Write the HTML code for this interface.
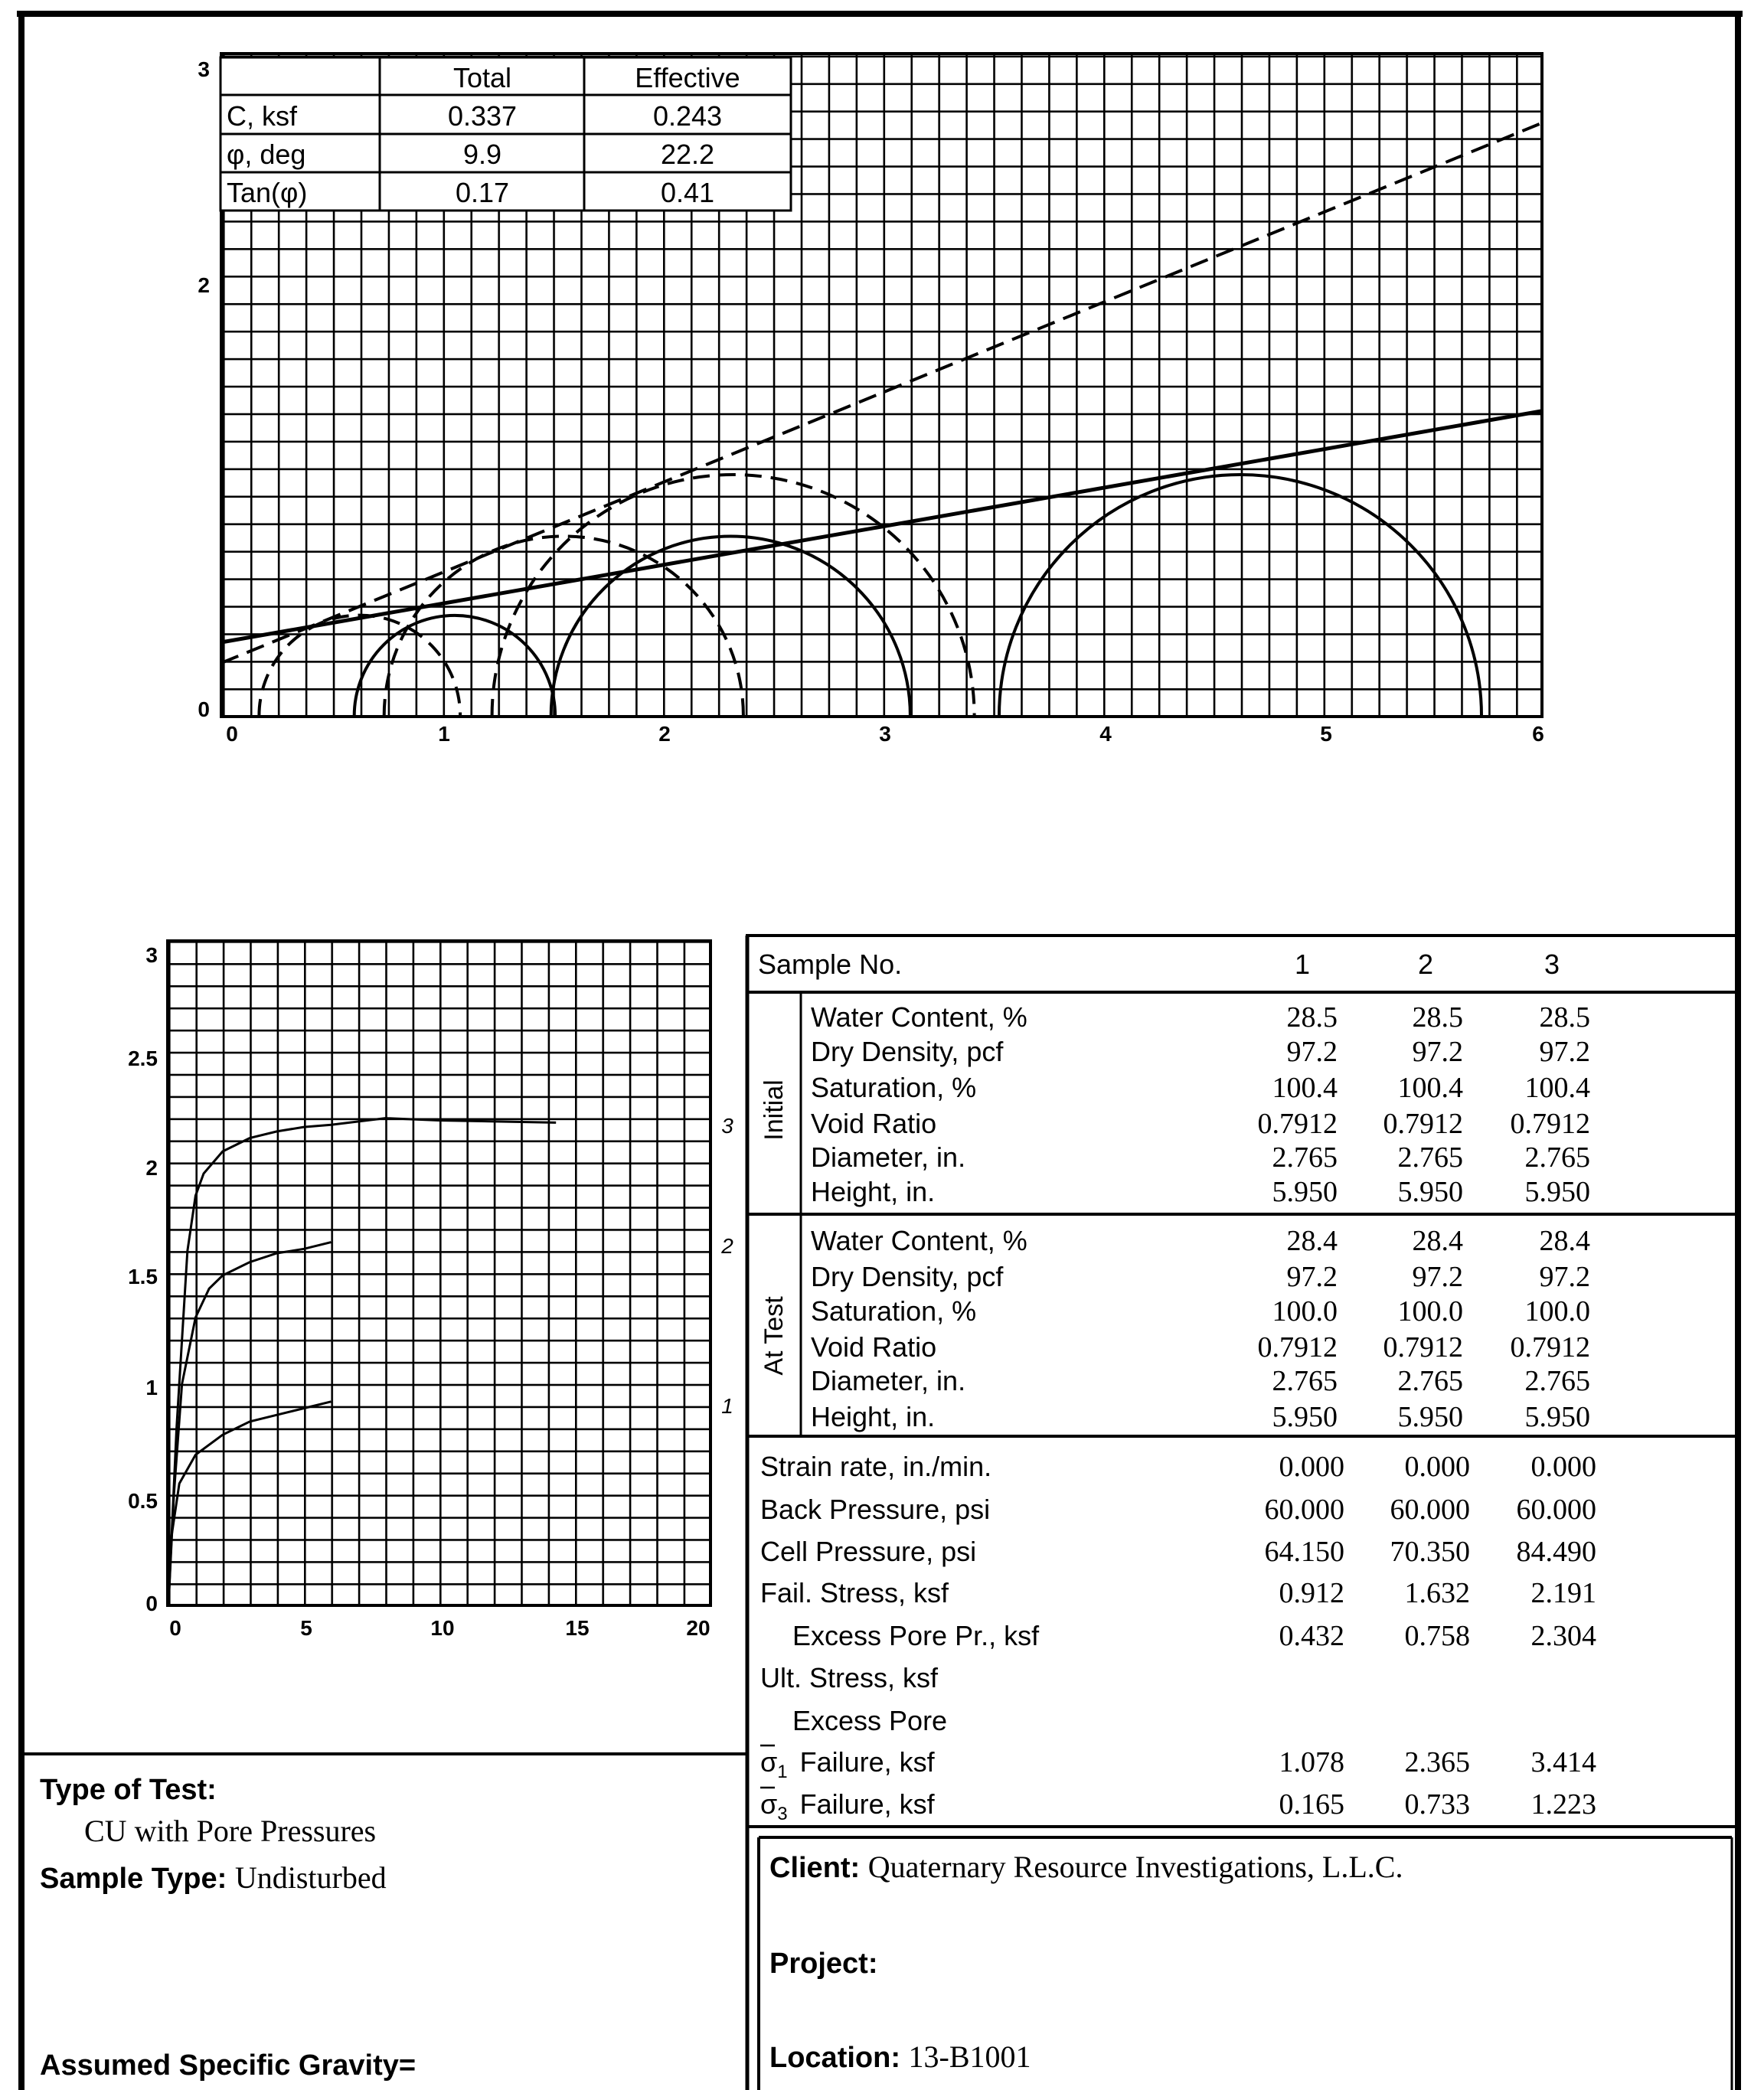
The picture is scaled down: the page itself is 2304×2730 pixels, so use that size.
<!DOCTYPE html>
<html><head><meta charset="utf-8"><style>
html,body{margin:0;padding:0;background:#fff}
svg{display:block}
.s{font-family:"Liberation Sans",Arial,sans-serif}
.r{font-family:"Liberation Serif","Times New Roman",serif}
</style></head><body>
<svg width="2304" height="2730" viewBox="0 0 2304 2730" xmlns="http://www.w3.org/2000/svg">
<defs>
<pattern id="g1" patternUnits="userSpaceOnUse" x="291" y="935" width="35.9375" height="35.9375">
<rect x="0" y="0" width="2.6" height="35.9375" fill="#000"/><rect x="0" y="0" width="35.9375" height="2.6" fill="#000"/>
</pattern>
<pattern id="g2" patternUnits="userSpaceOnUse" x="220" y="2097" width="35.4" height="28.93">
<rect x="0" y="0" width="2.6" height="28.93" fill="#000"/><rect x="0" y="0" width="35.4" height="2.6" fill="#000"/>
</pattern>
</defs>
<rect width="2304" height="2730" fill="#fff"/>
<rect x="22" y="14" width="2254" height="8" fill="#000"/>
<rect x="24" y="14" width="8" height="2716" fill="#000"/>
<rect x="2266" y="14" width="8" height="2716" fill="#000"/>

<rect x="291" y="71" width="1722" height="864" fill="url(#g1)"/>
<rect x="289" y="70" width="1725" height="866" fill="none" stroke="#000" stroke-width="4"/>
<rect x="288" y="75" width="745" height="200" fill="#fff" stroke="#000" stroke-width="3"/>
<line x1="496" y1="75" x2="496" y2="275" stroke="#000" stroke-width="3"/>
<line x1="763" y1="75" x2="763" y2="275" stroke="#000" stroke-width="3"/>
<line x1="288" y1="124" x2="1033" y2="124" stroke="#000" stroke-width="3"/>
<line x1="288" y1="175" x2="1033" y2="175" stroke="#000" stroke-width="3"/>
<line x1="288" y1="225" x2="1033" y2="225" stroke="#000" stroke-width="3"/>
<g class="s" font-size="36" fill="#000">
<text x="630" y="114" text-anchor="middle">Total</text>
<text x="898" y="114" text-anchor="middle">Effective</text>
<text x="296" y="164">C, ksf</text>
<text x="630" y="164" text-anchor="middle">0.337</text>
<text x="898" y="164" text-anchor="middle">0.243</text>
<text x="296" y="214">φ, deg</text>
<text x="630" y="214" text-anchor="middle">9.9</text>
<text x="898" y="214" text-anchor="middle">22.2</text>
<text x="296" y="264">Tan(φ)</text>
<text x="630" y="264" text-anchor="middle">0.17</text>
<text x="898" y="264" text-anchor="middle">0.41</text>
</g>
<g fill="none" stroke="#000" stroke-width="4">
<path d="M462.7 935 A131.2 131.2 0 0 1 725.1 935"/>
<path d="M719.7 935 A234.6 234.6 0 0 1 1188.9 935"/>
<path d="M1305 935 A315 315 0 0 1 1935 935"/>
</g>
<g fill="none" stroke="#000" stroke-width="4" stroke-dasharray="22 12">
<path d="M338.4 935 A131.2 131.2 0 0 1 601.1 935"/>
<path d="M501.7 935 A234.6 234.6 0 0 1 970.9 935"/>
<path d="M642.6 935 A315 315 0 0 1 1272.6 935"/>
</g>
<line x1="289" y1="839" x2="2013" y2="537" stroke="#000" stroke-width="5"/>
<line x1="289" y1="866" x2="2013" y2="161" stroke="#000" stroke-width="4" stroke-dasharray="24 12"/>
<g class="s" font-size="28" font-weight="bold" fill="#000">
<text x="274" y="100" text-anchor="end">3</text>
<text x="274" y="382" text-anchor="end">2</text>
<text x="274" y="936" text-anchor="end">0</text>
<text x="303" y="968" text-anchor="middle">0</text>
<text x="580" y="968" text-anchor="middle">1</text>
<text x="868" y="968" text-anchor="middle">2</text>
<text x="1156" y="968" text-anchor="middle">3</text>
<text x="1444" y="968" text-anchor="middle">4</text>
<text x="1732" y="968" text-anchor="middle">5</text>
<text x="2009" y="968" text-anchor="middle">6</text>
</g>

<rect x="220" y="1229" width="708" height="868" fill="url(#g2)"/>
<rect x="219" y="1229" width="709" height="868" fill="none" stroke="#000" stroke-width="4"/>
<g fill="none" stroke="#000" stroke-width="3">
<polyline points="220,2097 230.6,1865.6 244.8,1634.1 255.4,1561.8 266,1532.9 290.8,1504 326.2,1486.6 361.6,1477.9 397,1472.1 432.4,1469.3 503.2,1460.6 574,1463.5 726.2,1466.4"/>
<polyline points="220,2097 227.1,1952.4 237.7,1807.7 255.4,1720.9 273.1,1683.3 290.8,1666 326.2,1648.6 361.6,1637 397,1631.3 432.4,1622.6"/>
<polyline points="220,2097 223.5,2010.2 234.2,1937.9 255.4,1900.3 290.8,1874.2 326.2,1856.9 361.6,1848.2 397,1839.5 432.4,1830.8"/>
</g>
<g class="s" font-size="28" font-weight="bold" fill="#000">
<text x="206" y="1257" text-anchor="end">3</text>
<text x="206" y="1392" text-anchor="end">2.5</text>
<text x="206" y="1535" text-anchor="end">2</text>
<text x="206" y="1677" text-anchor="end">1.5</text>
<text x="206" y="1822" text-anchor="end">1</text>
<text x="206" y="1970" text-anchor="end">0.5</text>
<text x="206" y="2104" text-anchor="end">0</text>
<text x="229" y="2136" text-anchor="middle">0</text>
<text x="400" y="2136" text-anchor="middle">5</text>
<text x="578" y="2136" text-anchor="middle">10</text>
<text x="754" y="2136" text-anchor="middle">15</text>
<text x="912" y="2136" text-anchor="middle">20</text>
<g font-style="italic" font-weight="normal"><text x="950" y="1480" text-anchor="middle">3</text>
<text x="950" y="1637" text-anchor="middle">2</text>
<text x="950" y="1846" text-anchor="middle">1</text></g>
</g>

<g stroke="#000" fill="none">
<line x1="974" y1="1222" x2="2272" y2="1222" stroke-width="4"/>
<line x1="976" y1="1222" x2="976" y2="2730" stroke-width="5"/>
<line x1="976" y1="1296" x2="2272" y2="1296" stroke-width="4"/>
<line x1="976" y1="1586" x2="2272" y2="1586" stroke-width="4"/>
<line x1="976" y1="1876" x2="2272" y2="1876" stroke-width="4"/>
<line x1="1046" y1="1296" x2="1046" y2="1876" stroke-width="3"/>
<line x1="26" y1="2291" x2="976" y2="2291" stroke-width="4"/>
<line x1="976" y1="2386" x2="2272" y2="2386" stroke-width="4"/>
<line x1="991" y1="2400" x2="991" y2="2730" stroke-width="4"/>
<line x1="991" y1="2400" x2="2262" y2="2400" stroke-width="4"/>
<line x1="2262" y1="2400" x2="2262" y2="2730" stroke-width="3"/>
</g>
<g class="s" font-size="36" fill="#000">
<text x="990" y="1272">Sample No.</text>
<text x="1701" y="1272" text-anchor="middle">1</text>
<text x="1862" y="1272" text-anchor="middle">2</text>
<text x="2027" y="1272" text-anchor="middle">3</text>
<text transform="translate(1022,1450) rotate(-90)" text-anchor="middle" font-size="34">Initial</text>
<text transform="translate(1022,1745) rotate(-90)" text-anchor="middle" font-size="34">At Test</text>
<text x="1059" y="1341">Water Content, %</text>
<text x="1059" y="1386">Dry Density, pcf</text>
<text x="1059" y="1433">Saturation, %</text>
<text x="1059" y="1480">Void Ratio</text>
<text x="1059" y="1524">Diameter, in.</text>
<text x="1059" y="1569">Height, in.</text>
<text x="1059" y="1633">Water Content, %</text>
<text x="1059" y="1680">Dry Density, pcf</text>
<text x="1059" y="1725">Saturation, %</text>
<text x="1059" y="1772">Void Ratio</text>
<text x="1059" y="1816">Diameter, in.</text>
<text x="1059" y="1863">Height, in.</text>
<text x="993" y="1928">Strain rate, in./min.</text>
<text x="993" y="1984">Back Pressure, psi</text>
<text x="993" y="2039">Cell Pressure, psi</text>
<text x="993" y="2093">Fail. Stress, ksf</text>
<text x="1035" y="2149">Excess Pore Pr., ksf</text>
<text x="993" y="2204">Ult. Stress, ksf</text>
<text x="1035" y="2260">Excess Pore</text>
<text x="993" y="2314">σ<tspan font-size="24" dy="8">1</tspan><tspan dy="-8" dx="16">Failure, ksf</tspan></text>
<text x="993" y="2369">σ<tspan font-size="24" dy="8">3</tspan><tspan dy="-8" dx="16">Failure, ksf</tspan></text>
</g>
<line x1="993" y1="2280" x2="1012" y2="2280" stroke="#000" stroke-width="2.5"/>
<line x1="993" y1="2335" x2="1012" y2="2335" stroke="#000" stroke-width="2.5"/>
<g class="r" font-size="38" fill="#000" text-anchor="end">
<text x="1747" y="1341">28.5</text><text x="1911" y="1341">28.5</text><text x="2077" y="1341">28.5</text>
<text x="1747" y="1386">97.2</text><text x="1911" y="1386">97.2</text><text x="2077" y="1386">97.2</text>
<text x="1747" y="1433">100.4</text><text x="1911" y="1433">100.4</text><text x="2077" y="1433">100.4</text>
<text x="1747" y="1480">0.7912</text><text x="1911" y="1480">0.7912</text><text x="2077" y="1480">0.7912</text>
<text x="1747" y="1524">2.765</text><text x="1911" y="1524">2.765</text><text x="2077" y="1524">2.765</text>
<text x="1747" y="1569">5.950</text><text x="1911" y="1569">5.950</text><text x="2077" y="1569">5.950</text>
<text x="1747" y="1633">28.4</text><text x="1911" y="1633">28.4</text><text x="2077" y="1633">28.4</text>
<text x="1747" y="1680">97.2</text><text x="1911" y="1680">97.2</text><text x="2077" y="1680">97.2</text>
<text x="1747" y="1725">100.0</text><text x="1911" y="1725">100.0</text><text x="2077" y="1725">100.0</text>
<text x="1747" y="1772">0.7912</text><text x="1911" y="1772">0.7912</text><text x="2077" y="1772">0.7912</text>
<text x="1747" y="1816">2.765</text><text x="1911" y="1816">2.765</text><text x="2077" y="1816">2.765</text>
<text x="1747" y="1863">5.950</text><text x="1911" y="1863">5.950</text><text x="2077" y="1863">5.950</text>
<text x="1756" y="1928">0.000</text><text x="1920" y="1928">0.000</text><text x="2085" y="1928">0.000</text>
<text x="1756" y="1984">60.000</text><text x="1920" y="1984">60.000</text><text x="2085" y="1984">60.000</text>
<text x="1756" y="2039">64.150</text><text x="1920" y="2039">70.350</text><text x="2085" y="2039">84.490</text>
<text x="1756" y="2093">0.912</text><text x="1920" y="2093">1.632</text><text x="2085" y="2093">2.191</text>
<text x="1756" y="2149">0.432</text><text x="1920" y="2149">0.758</text><text x="2085" y="2149">2.304</text>
<text x="1756" y="2314">1.078</text><text x="1920" y="2314">2.365</text><text x="2085" y="2314">3.414</text>
<text x="1756" y="2369">0.165</text><text x="1920" y="2369">0.733</text><text x="2085" y="2369">1.223</text>
</g>

<g font-size="38" fill="#000">
<text x="52" y="2350" class="s" font-weight="bold">Type of Test:</text>
<text x="110" y="2405" class="r" font-size="40">CU with Pore Pressures</text>
<text x="52" y="2466" class="s" font-weight="bold">Sample Type: <tspan class="r" font-weight="normal" font-size="40">Undisturbed</tspan></text>
<text x="52" y="2710" class="s" font-weight="bold">Assumed Specific Gravity=</text>
<text x="1005" y="2452" class="s" font-weight="bold">Client: <tspan class="r" font-weight="normal" font-size="40">Quaternary Resource Investigations, L.L.C.</tspan></text>
<text x="1005" y="2577" class="s" font-weight="bold">Project:</text>
<text x="1005" y="2700" class="s" font-weight="bold">Location: <tspan class="r" font-weight="normal" font-size="40">13-B1001</tspan></text>
</g>
</svg>
</body></html>
